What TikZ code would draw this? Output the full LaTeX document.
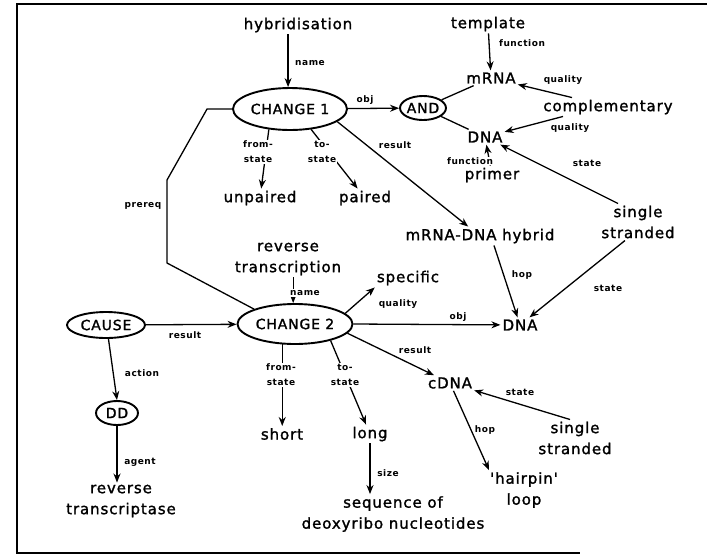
\documentclass[tikz,border=0pt]{standalone}
\usepackage{fontspec}
\setmainfont[LetterSpace=6]{DejaVu Sans}
\newfontfamily\letterfont[LetterSpace=6,FakeBold=1.5]{DejaVu Sans}
\usetikzlibrary{arrows.meta,shapes.geometric}

\begin{document}
\begin{tikzpicture}[
    x=1pt, y=-1pt,
    txt/.style={font=\letterfont\fontsize{15}{21}\selectfont, align=center, inner sep=2pt},
    lbl/.style={font=\fontsize{9}{15}\selectfont\bfseries, align=center, inner sep=1pt, fill=white},
    ell/.style={ellipse, draw, line width=1.9pt, inner sep=0pt, font=\letterfont\fontsize{14}{16}\selectfont},
    arr/.style={-{Stealth[length=9pt,width=7pt]}, line width=1.3pt},
    link/.style={line width=1.3pt},
    frame/.style={line width=2.2pt}
]
\useasboundingbox (0,0) rectangle (707,555);

% Frame
\draw[frame] (707,4) -- (17,4) -- (17,553) -- (580,553);

% Concepts
\node[ell, minimum width=114, minimum height=42] (ch1) at (290,109) {CHANGE 1};
\node[ell, minimum width=40, minimum height=24] (and) at (423,108) {AND};
\node[ell, minimum width=115, minimum height=40] (ch2) at (295,324) {CHANGE 2};
\node[ell, minimum width=78, minimum height=26] (cause) at (106,325) {CAUSE};
\node[ell, minimum width=42, minimum height=24] (dd) at (117,413) {DD};

% Words
\node[txt] (hyb) at (298,25) {hybridisation};
\node[txt] (tmpl) at (488,24) {template};
\node[txt] (mrna) at (491,78) {mRNA};
\node[txt] (compl) at (608,107) {complementary};
\node[txt] (dnaA) at (485,137) {DNA};
\node[txt] (primer) at (492,175) {primer};
\node[txt] (unpaired) at (260,198) {unpaired};
\node[txt] (paired) at (365,198) {paired};
\node[txt] (hybrid) at (480,236) {mRNA-DNA hybrid};
\node[txt] (ssA) at (638,222) {single\\stranded};
\node[txt] (revtr) at (288,259) {reverse\\transcription};
\node[txt] (specific) at (408,278) {specific};
\node[txt] (dnaB) at (520,325) {DNA};
\node[txt] (cdna) at (450,383) {cDNA};
\node[txt] (ssB) at (575,438) {single\\stranded};
\node[txt] (hairpin) at (524,490) {'hairpin'\\loop};
\node[txt] (short) at (282,434) {short};
\node[txt] (long) at (370,434) {long};
\node[txt] (seq) at (393,514) {sequence of\\deoxyribo nucleotides};
\node[txt] (revtase) at (121,501) {reverse\\transcriptase};

% Relations
\draw[arr] (hyb.south -| ch1.95) -- (ch1.95);
\draw[arr] (ch1) -- (and);
\draw[arr] (tmpl) -- (mrna);
\draw[link] (and) -- (mrna);
\draw[link] (and) -- (dnaA);
\draw[arr] ([xshift=-36pt]compl.north) -- (mrna);
\draw[arr] ([xshift=-45pt]compl.south) -- (dnaA);
\draw[arr] (primer) -- (dnaA);
\draw[arr] ([xshift=-20pt]ssA.north) -- (dnaA);
\draw[arr] ([xshift=-13pt]ssA.south) -- (dnaB);
\draw[arr] (ch1.345) -- (hybrid);
\draw[arr] ([xshift=14pt]hybrid.south) -- (dnaB);
\draw[arr] (ch1.224) -- (unpaired);
\draw[arr] (ch1.316) -- (paired);
\draw[link] (ch1.west) -- ++(-25,0) coordinate (pq1) -- (167,180) coordinate (pq2)
    -- (167,263) coordinate (pq3) -- (ch2.160);
\draw[arr] (revtr.south -| ch2.95) -- (ch2.95);
\draw[arr] (cause) -- (ch2);
\draw[arr] (cause.280) -- (dd.north);
\draw[arr] (dd.south) -- (dd.south |- revtase.north);
\draw[arr] (ch2.12) -- (specific.south west);
\draw[arr] (ch2.east) -- (dnaB);
\draw[arr] (ch2.350) -- (cdna);
\draw[arr] ([xshift=-5pt]ssB.north) -- (cdna);
\draw[arr] (cdna) -- ([xshift=-35pt]hairpin.north);
\draw[arr] (ch2.238) -- (ch2.238 |- short.north);
\draw[arr] (ch2.335) -- (long);
\draw[arr] (long.south) -- (long.south |- seq.north);

% Relation labels
\node[lbl] (l1) at (310,63) {name};
\node[lbl] (l2) at (365,100) {obj};
\node[lbl] (l3) at (522,43) {function};
\node[lbl] (l4) at (563,80) {quality};
\node[lbl] (l5) at (570,128) {quality};
\node[lbl] (l6) at (470,161) {function};
\node[lbl] (l7) at (587,163) {state};
\node[lbl] (l8) at (395,145) {result};
\node[lbl] (l9) at (258,152) {from-\\state};
\node[lbl] (l10) at (322,152) {to-\\state};
\node[lbl] (l11) at (143,206) {prereq};
\node[lbl] (l12) at (305,293) {name};
\node[lbl] (l13) at (185,335) {result};
\node[lbl] (l14) at (142,373) {action};
\node[lbl] (l15) at (140,462) {agent};
\node[lbl] (l16) at (398,304) {quality};
\node[lbl] (l17) at (458,317) {obj};
\node[lbl] (l18) at (522,275) {hop};
\node[lbl] (l19) at (608,288) {state};
\node[lbl] (l20) at (415,350) {result};
\node[lbl] (l21) at (520,392) {state};
\node[lbl] (l22) at (485,430) {hop};
\node[lbl] (l23) at (281,375) {from-\\state};
\node[lbl] (l24) at (345,375) {to-\\state};
\node[lbl] (l25) at (388,473) {size};

\end{tikzpicture}
\end{document}
